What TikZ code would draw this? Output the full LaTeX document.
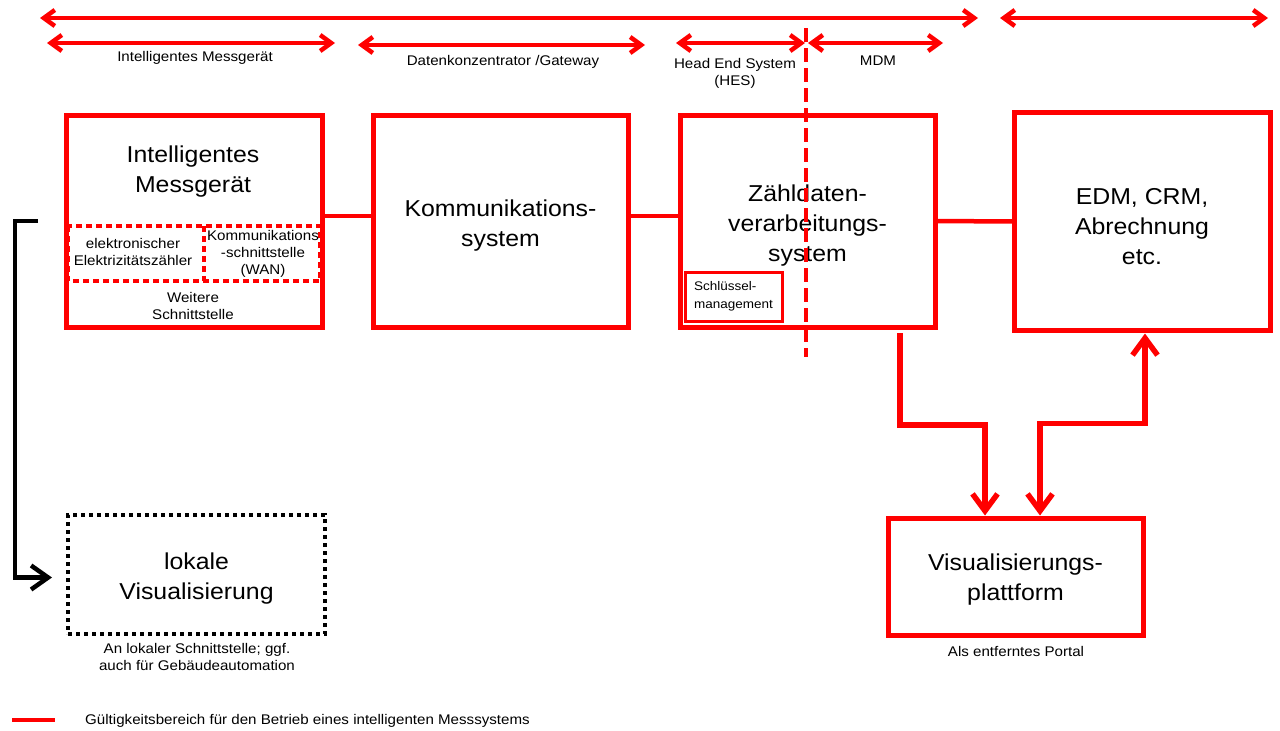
\documentclass[tikz,border=0pt]{standalone}
\usepackage{fontspec}
\setmainfont{Liberation Sans}[FakeStretch=1.08]
\usetikzlibrary{arrows.meta}
\begin{document}
\begin{tikzpicture}[x=1pt,y=-1pt,
  rbox/.style={draw=red, line width=5pt, outer sep=0pt, inner sep=0pt},
  big/.style={font=\fontsize{23}{30}\selectfont, align=center, inner sep=0pt},
  small/.style={font=\fontsize{14}{17}\selectfont, align=center, inner sep=0pt},
  rangearrow/.style={draw=red, line width=4.5pt, {Straight Barb[length=11pt,width=16pt]}-{Straight Barb[length=11pt,width=16pt]}},
  conn/.style={draw=red, line width=4.5pt},
  flow/.style={draw=red, line width=5.5pt, -{Straight Barb[length=17pt,width=25pt]}},
  flowboth/.style={draw=red, line width=5.5pt, {Straight Barb[length=17pt,width=25pt]}-{Straight Barb[length=17pt,width=25pt]}},
  barrow/.style={draw=black, line width=4.5pt, -{Straight Barb[length=17pt,width=24pt]}},
  innerdot/.style={draw=red, line width=3.5pt, dash pattern=on 6pt off 4pt},
  blackdot/.style={draw=black, line width=4pt, dash pattern=on 4pt off 4pt, outer sep=0pt, inner sep=0pt},
  sepline/.style={draw=red, line width=3.5pt, dash pattern=on 14pt off 6pt}
]
\useasboundingbox (0,0) rectangle (1280,731);

% range arrows
\coordinate (r1a) at (40,18);  \coordinate (r1b) at (978,18);
\coordinate (r2a) at (1000,18); \coordinate (r2b) at (1268,18);
\coordinate (r3a) at (47,43);  \coordinate (r3b) at (335,43);
\coordinate (r4a) at (358,45); \coordinate (r4b) at (645,45);
\coordinate (r5a) at (676,43); \coordinate (r5b) at (805,43);
\coordinate (r6a) at (808,43); \coordinate (r6b) at (943,43);
\draw[rangearrow] (r1a) -- (r1b);
\draw[rangearrow] (r2a) -- (r2b);
\draw[rangearrow] (r3a) -- (r3b);
\draw[rangearrow] (r4a) -- (r4b);
\draw[rangearrow] (r5a) -- (r5b);
\draw[rangearrow] (r6a) -- (r6b);

\node[small] (lab1) at (195,58) {Intelligentes Messgerät};
\node[small] (lab2) at (503,62) {Datenkonzentrator /Gateway};
\node[small] (lab3) at (735,73) {Head End System\\(HES)};
\node[small] (lab4) at (878,61) {MDM};

% boxes
\node[rbox, minimum width=256pt, minimum height=212pt] (b1) at (194,221) {};
\node[big] (t1) at (193,172) {Intelligentes\\Messgerät};
\draw[innerdot] (68,226) rectangle (320,281);
\draw[innerdot] (204,226) -- (204,281);
\node[small] (ez) at (133,252) {elektronischer\\Elektrizitätszähler};
\node[small] (kw) at (263,254) {Kommunikations\\-schnittstelle\\(WAN)};
\node[small] (ws) at (193,306) {Weitere\\Schnittstelle};

\node[rbox, minimum width=255pt, minimum height=212pt] (b2) at (500.5,221) {};
\node[big] (t2) at (500.5,226) {Kommunikations-\\system};
\node[rbox, minimum width=255pt, minimum height=212pt] (b3) at (807.5,221) {};
\node[big] (t3) at (807.5,226) {Zähldaten-\\verarbeitungs-\\system};
\node[rbox, line width=3pt, minimum width=97pt, minimum height=49pt, font=\fontsize{12.5}{18}\selectfont, align=left] (sm) at (733.5,296.5) {Schlüssel-\\management};
\node[rbox, minimum width=256pt, minimum height=218pt] (b4) at (1142,221.5) {};
\node[big] (t4) at (1142,227) {EDM, CRM,\\Abrechnung\\etc.};
\node[rbox, minimum width=255pt, minimum height=117pt] (b5) at (1015.5,577) {};
\node[big] (t5) at (1015.5,580) {Visualisierungs-\\plattform};
\node[blackdot, minimum width=257pt, minimum height=119pt] (lv) at (196.5,574.5) {};
\node[big] (t6) at (196.5,579) {lokale\\Visualisierung};

\node[small] (lab5) at (1016,651) {Als entferntes Portal};
\node[small] (lab6) at (197,657) {An lokaler Schnittstelle; ggf.\\auch für Gebäudeautomation};

% connectors
\draw[conn] ([yshift=5pt]b1.east) -- ([yshift=5pt]b2.west);
\draw[conn] ([yshift=5pt]b2.east) -- ([yshift=5pt]b3.west);
\draw[conn] (b3.east) -- (b4.west);

\draw[flow] ([xshift=92.5pt,yshift=-6pt]b3.south) -- ++(0,92) -| ([xshift=-30.5pt,yshift=3pt]b5.north);
\draw[flowboth] ([xshift=24.5pt,yshift=3pt]b5.north) -- ++(0,-92) -| ([xshift=3pt,yshift=-3pt]b4.south);

\draw[barrow] ([xshift=-28pt]b1.west) -- ++(-23,0) |- ([xshift=-16pt,yshift=-3pt]lv.west);

% separator HES / MDM
\draw[sepline] (806,28) -- (806,357);

% legend
\coordinate (l1) at (12,720); \coordinate (l2) at (55,720);
\draw[conn] (l1) -- (l2);
\node[small, anchor=west] (leg) at (85,721) {Gültigkeitsbereich für den Betrieb eines intelligenten Messsystems};
\end{tikzpicture}
\end{document}
